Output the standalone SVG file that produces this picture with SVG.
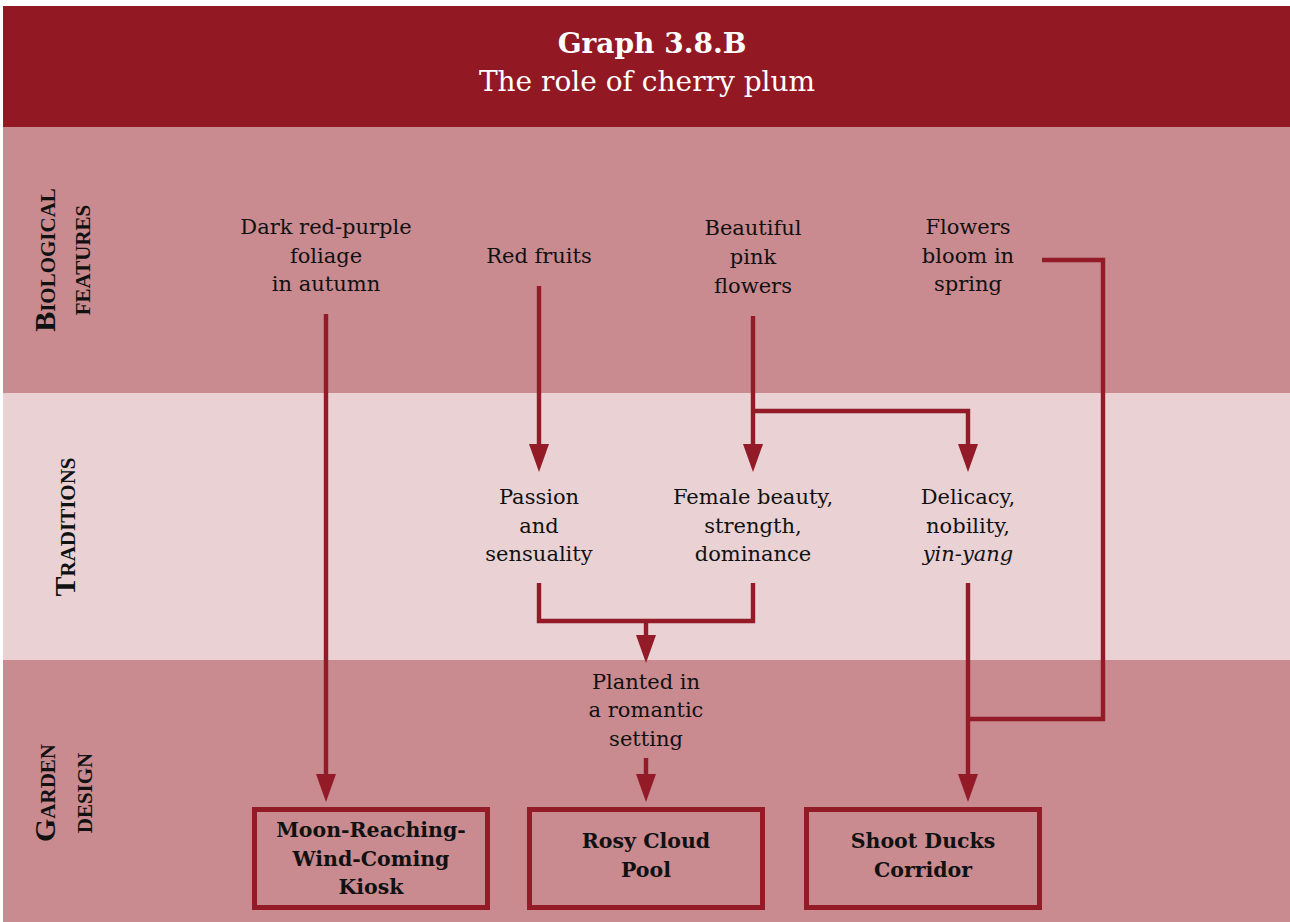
<svg xmlns="http://www.w3.org/2000/svg" width="1290" height="922" viewBox="0 0 1290 922">
  <style>
    .band-dark { fill: #c98a90; }
    .band-light { fill: #e9d1d4; }
    .title { font-family: "DejaVu Serif", "Liberation Serif", serif; fill: #ffffff; text-anchor: middle; }
    .section { font-family: "Liberation Serif", "Times New Roman", serif; font-weight: bold; font-variant: small-caps; font-size: 30px; fill: #111111; text-anchor: middle; }
    .label { font-family: "DejaVu Serif", "Liberation Serif", serif; font-size: 21px; fill: #111111; text-anchor: middle; }
    .box-label { font-family: "DejaVu Serif", "Liberation Serif", serif; font-size: 20.5px; font-weight: bold; fill: #111111; text-anchor: middle; }
    .box { fill: none; stroke: #931a27; stroke-width: 5; }
    .wire { fill: none; stroke: #931a27; stroke-width: 4.4; stroke-linejoin: miter; }
  </style>
  <defs>
    <marker id="head" viewBox="0 -10 28 20" markerWidth="28" markerHeight="20" refX="0" refY="0" orient="auto" markerUnits="userSpaceOnUse">
      <path d="M0,-10 L28,0 L0,10 Z" fill="#931a27"/>
    </marker>
  </defs>

  <!-- background bands -->
  <rect x="3" y="6" width="1287" height="121" fill="#921824"/>
  <rect class="band-dark" x="3" y="127" width="1287" height="266"/>
  <rect class="band-light" x="3" y="393" width="1287" height="267"/>
  <rect class="band-dark" x="3" y="660" width="1287" height="262"/>

  <!-- heading -->
  <g id="title">
    <text class="title" x="652" y="53" font-size="28" font-weight="bold">Graph 3.8.B</text>
    <text class="title" x="647" y="91" font-size="28">The role of cherry plum</text>
  </g>

  <!-- row headings -->
  <g id="row-biological">
    <text class="section" transform="translate(55,260) rotate(-90)">Biological</text>
    <text class="section" transform="translate(90,260) rotate(-90)">features</text>
  </g>
  <g id="row-traditions">
    <text class="section" transform="translate(75,527) rotate(-90)">Traditions</text>
  </g>
  <g id="row-garden">
    <text class="section" transform="translate(55,793) rotate(-90)">Garden</text>
    <text class="section" transform="translate(92,793) rotate(-90)">design</text>
  </g>

  <!-- connectors -->
  <g id="connectors">
    <path class="wire" d="M326,314 V774" marker-end="url(#head)"/>
    <path class="wire" d="M539,286 V444" marker-end="url(#head)"/>
    <path class="wire" d="M753,316 V444" marker-end="url(#head)"/>
    <path class="wire" d="M753,411 H968 V444" marker-end="url(#head)"/>
    <path class="wire" d="M1042,260 H1103 V719 H968"/>
    <path class="wire" d="M968,583 V774" marker-end="url(#head)"/>
    <path class="wire" d="M539,583 V621 H753 V583"/>
    <path class="wire" d="M646,621 V635" marker-end="url(#head)"/>
    <path class="wire" d="M646,758 V774" marker-end="url(#head)"/>
  </g>

  <!-- biological features -->
  <g id="foliage">
    <text class="label" x="326" y="234">Dark red-purple</text>
    <text class="label" x="326" y="263">foliage</text>
    <text class="label" x="326" y="291">in autumn</text>
  </g>
  <g id="fruits">
    <text class="label" x="539" y="263">Red fruits</text>
  </g>
  <g id="pink-flowers">
    <text class="label" x="753" y="235">Beautiful</text>
    <text class="label" x="753" y="264">pink</text>
    <text class="label" x="753" y="293">flowers</text>
  </g>
  <g id="spring-bloom">
    <text class="label" x="968" y="234">Flowers</text>
    <text class="label" x="968" y="263">bloom in</text>
    <text class="label" x="968" y="291">spring</text>
  </g>

  <!-- traditions -->
  <g id="passion">
    <text class="label" x="539" y="504">Passion</text>
    <text class="label" x="539" y="533">and</text>
    <text class="label" x="539" y="561">sensuality</text>
  </g>
  <g id="female-beauty">
    <text class="label" x="753" y="504">Female beauty,</text>
    <text class="label" x="753" y="533">strength,</text>
    <text class="label" x="753" y="561">dominance</text>
  </g>
  <g id="delicacy">
    <text class="label" x="968" y="504">Delicacy,</text>
    <text class="label" x="968" y="533">nobility,</text>
    <text class="label" x="968" y="561"><tspan font-style="italic">yin-yang</tspan></text>
  </g>

  <!-- garden design -->
  <g id="romantic-setting">
    <text class="label" x="646" y="689">Planted in</text>
    <text class="label" x="646" y="717">a romantic</text>
    <text class="label" x="646" y="746">setting</text>
  </g>
  <g id="kiosk">
    <rect class="box" x="254.5" y="809.5" width="233" height="98"/>
    <text class="box-label" x="371" y="837">Moon-Reaching-</text>
    <text class="box-label" x="371" y="866">Wind-Coming</text>
    <text class="box-label" x="371" y="894">Kiosk</text>
  </g>
  <g id="rosy-cloud-pool">
    <rect class="box" x="529.5" y="809.5" width="233" height="98"/>
    <text class="box-label" x="646" y="848">Rosy Cloud</text>
    <text class="box-label" x="646" y="877">Pool</text>
  </g>
  <g id="shoot-ducks-corridor">
    <rect class="box" x="806.5" y="809.5" width="233" height="98"/>
    <text class="box-label" x="923" y="848">Shoot Ducks</text>
    <text class="box-label" x="923" y="877">Corridor</text>
  </g>
</svg>
